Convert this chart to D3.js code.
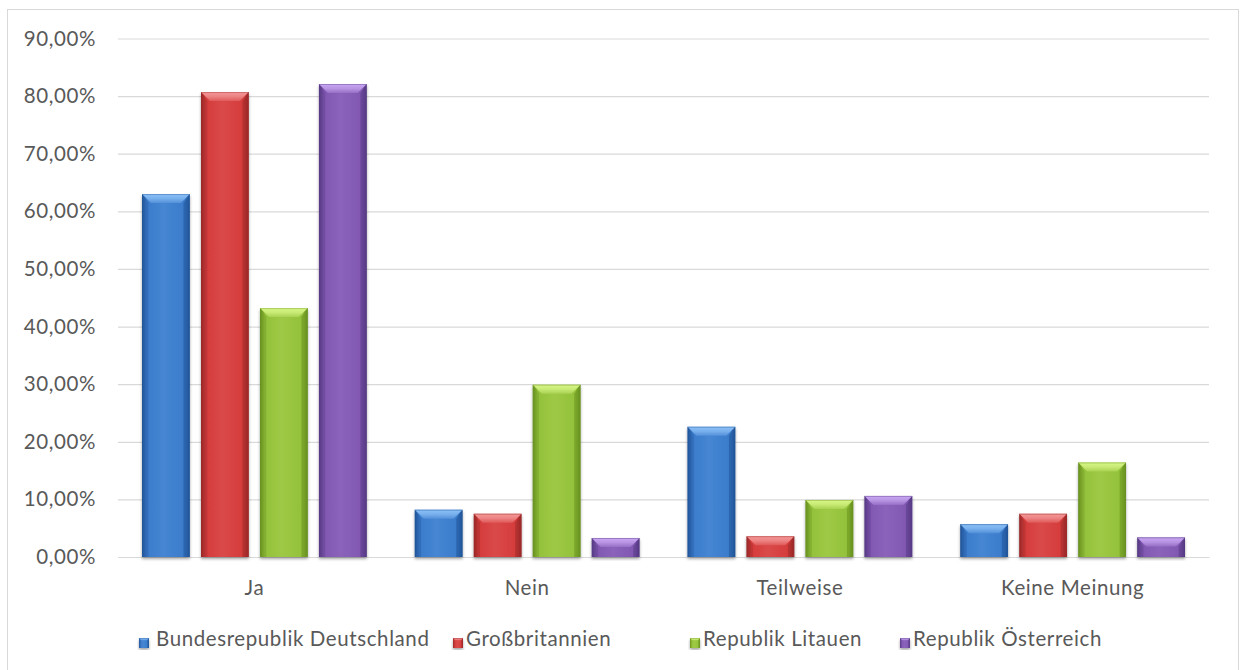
<!DOCTYPE html>
<html>
<head>
<meta charset="utf-8">
<script src="https://cdn.jsdelivr.net/npm/d3@7"></script>
<style>
  html, body { margin: 0; padding: 0; background: #fff; }
  svg { display: block; font-family: "Lato", "Open Sans", sans-serif; }
  text { letter-spacing: 0.6px; }
</style>
</head>
<body>
<svg id="chart" width="1244" height="670"></svg>
<script>
// Survey answers per country (share of respondents)
const categories = ["Ja", "Nein", "Teilweise", "Keine Meinung"];
const seriesNames = ["Bundesrepublik Deutschland", "Großbritannien", "Republik Litauen", "Republik Österreich"];
const deutschland = [0.630, 0.082, 0.226, 0.057];
const grossbritannien = [0.807, 0.075, 0.036, 0.075];
const litauen = [0.432, 0.299, 0.099, 0.164];
const oesterreich = [0.821, 0.033, 0.106, 0.034];
const yTicks = [0, 0.1, 0.2, 0.3, 0.4, 0.5, 0.6, 0.7, 0.8, 0.9];

const seriesValues = [deutschland, grossbritannien, litauen, oesterreich];

// Base / edge / highlight tones for each series
const palette = [
  { base: "#3a7bcb", dark: "#215497", light: "#8cc2f8" },
  { base: "#d53b3b", dark: "#992828", light: "#f59a9a" },
  { base: "#93c13a", dark: "#66901f", light: "#d9f788" },
  { base: "#8057b1", dark: "#553883", light: "#caa8f4" }
];

const FONT = 20.5;
const TEXT = "#595959";

const svg = d3.select("#chart");
const plot = { left: 118, right: 1209, top: 38.5, bottom: 557 };

// Outer chart frame
svg.append("rect")
  .attr("x", 7.5).attr("y", 9.5)
  .attr("width", 1231).attr("height", 665)
  .attr("fill", "#fff").attr("stroke", "#d9d9d9").attr("stroke-width", 1);

const defs = svg.append("defs");

// Soft shadow under each bar
const shadow = defs.append("filter").attr("id", "barShadow")
  .attr("x", "-20%").attr("y", "-10%").attr("width", "140%").attr("height", "130%");
shadow.append("feDropShadow")
  .attr("dx", 0).attr("dy", 2).attr("stdDeviation", 1.6)
  .attr("flood-color", "#000").attr("flood-opacity", 0.35);

palette.forEach((c, i) => {
  const body = defs.append("linearGradient").attr("id", "body" + i)
    .attr("x1", 0).attr("x2", 1).attr("y1", 0).attr("y2", 0);
  [[0, c.dark], [0.1, c.base], [0.45, d3.interpolateRgb(c.base, c.light)(0.15)], [0.9, c.base], [1, c.dark]]
    .forEach(([o, col]) => body.append("stop").attr("offset", o).attr("stop-color", col));

  const top = defs.append("linearGradient").attr("id", "top" + i)
    .attr("x1", 0).attr("x2", 0).attr("y1", 0).attr("y2", 1);
  [[0, c.light], [0.5, d3.interpolateRgb(c.base, c.light)(0.75)], [1, d3.interpolateRgb(c.base, c.light)(0.3)]]
    .forEach(([o, col]) => top.append("stop").attr("offset", o).attr("stop-color", col));
});

const y = d3.scaleLinear().domain([0, 0.9]).range([plot.bottom, plot.top]);
const x0 = d3.scaleBand().domain(categories).range([plot.left, plot.right]).padding(0);
const inset = x0.bandwidth() * 0.088;
const x1 = d3.scaleBand().domain(d3.range(seriesNames.length))
  .range([inset, x0.bandwidth() - inset]).paddingInner(0.19).paddingOuter(0);

const fmt = v => d3.format(".2f")(v * 100).replace(".", ",") + "%";

// Horizontal gridlines with percentage labels
const yAxis = d3.axisLeft(y).tickValues(yTicks).tickSize(-(plot.right - plot.left)).tickFormat(fmt).tickPadding(22);
const gy = svg.append("g").attr("transform", `translate(${plot.left},0)`).call(yAxis);
gy.select(".domain").remove();
gy.selectAll(".tick line").attr("stroke", "#d9d9d9").attr("stroke-width", 1.2);
gy.selectAll(".tick text")
  .attr("fill", TEXT).attr("font-size", FONT).attr("font-family", "Lato, sans-serif");

// Category axis labels
const xAxis = d3.axisBottom(x0).tickSize(0).tickPadding(23);
const gx = svg.append("g").attr("transform", `translate(0,${plot.bottom})`).call(xAxis);
gx.select(".domain").attr("stroke", "#d9d9d9").attr("stroke-width", 1.2);
gx.selectAll(".tick text")
  .attr("fill", TEXT).attr("font-size", FONT).attr("font-family", "Lato, sans-serif");

// Bevelled bar drawing
function bevelBar(g, x, yTop, w, h, i) {
  const b = Math.min(9, h / 2, w / 4);
  const c = palette[i];
  const bar = g.append("g").attr("filter", "url(#barShadow)");
  bar.append("rect").attr("x", x).attr("y", yTop).attr("width", w).attr("height", h)
    .attr("fill", `url(#body${i})`);
  // left and right edges
  bar.append("polygon")
    .attr("points", [[x, yTop], [x + b * 0.7, yTop + b], [x + b * 0.7, yTop + h], [x, yTop + h]].join(" "))
    .attr("fill", c.dark).attr("opacity", 0.35);
  bar.append("polygon")
    .attr("points", [[x + w, yTop], [x + w - b * 0.7, yTop + b], [x + w - b * 0.7, yTop + h], [x + w, yTop + h]].join(" "))
    .attr("fill", c.dark).attr("opacity", 0.55);
  // top bevel
  bar.append("polygon")
    .attr("points", [[x, yTop], [x + w, yTop], [x + w - b, yTop + b], [x + b, yTop + b]].join(" "))
    .attr("fill", `url(#top${i})`);
  bar.append("line")
    .attr("x1", x).attr("x2", x + w).attr("y1", yTop + 0.5).attr("y2", yTop + 0.5)
    .attr("stroke", c.dark).attr("stroke-opacity", 0.4);
}

const barsG = svg.append("g");
categories.forEach((cat, ci) => {
  seriesValues.forEach((vals, si) => {
    const v = vals[ci];
    const bx = x0(cat) + x1(si);
    const by = y(v);
    bevelBar(barsG, bx, by, x1.bandwidth(), y(0) - by, si);
  });
});

// Legend
const legendX = [139, 453, 690, 900];
const legend = svg.append("g");
seriesNames.forEach((name, i) => {
  const g = legend.append("g").attr("transform", `translate(${legendX[i]},638)`);
  bevelBar(g, 0, 0, 10, 10, i);
  g.append("text").attr("x", i === 0 ? 17 : 13).attr("y", 7.5)
    .attr("fill", TEXT).attr("font-size", FONT).attr("font-family", "Lato, sans-serif")
    .text(name);
});
</script>
</body>
</html>
